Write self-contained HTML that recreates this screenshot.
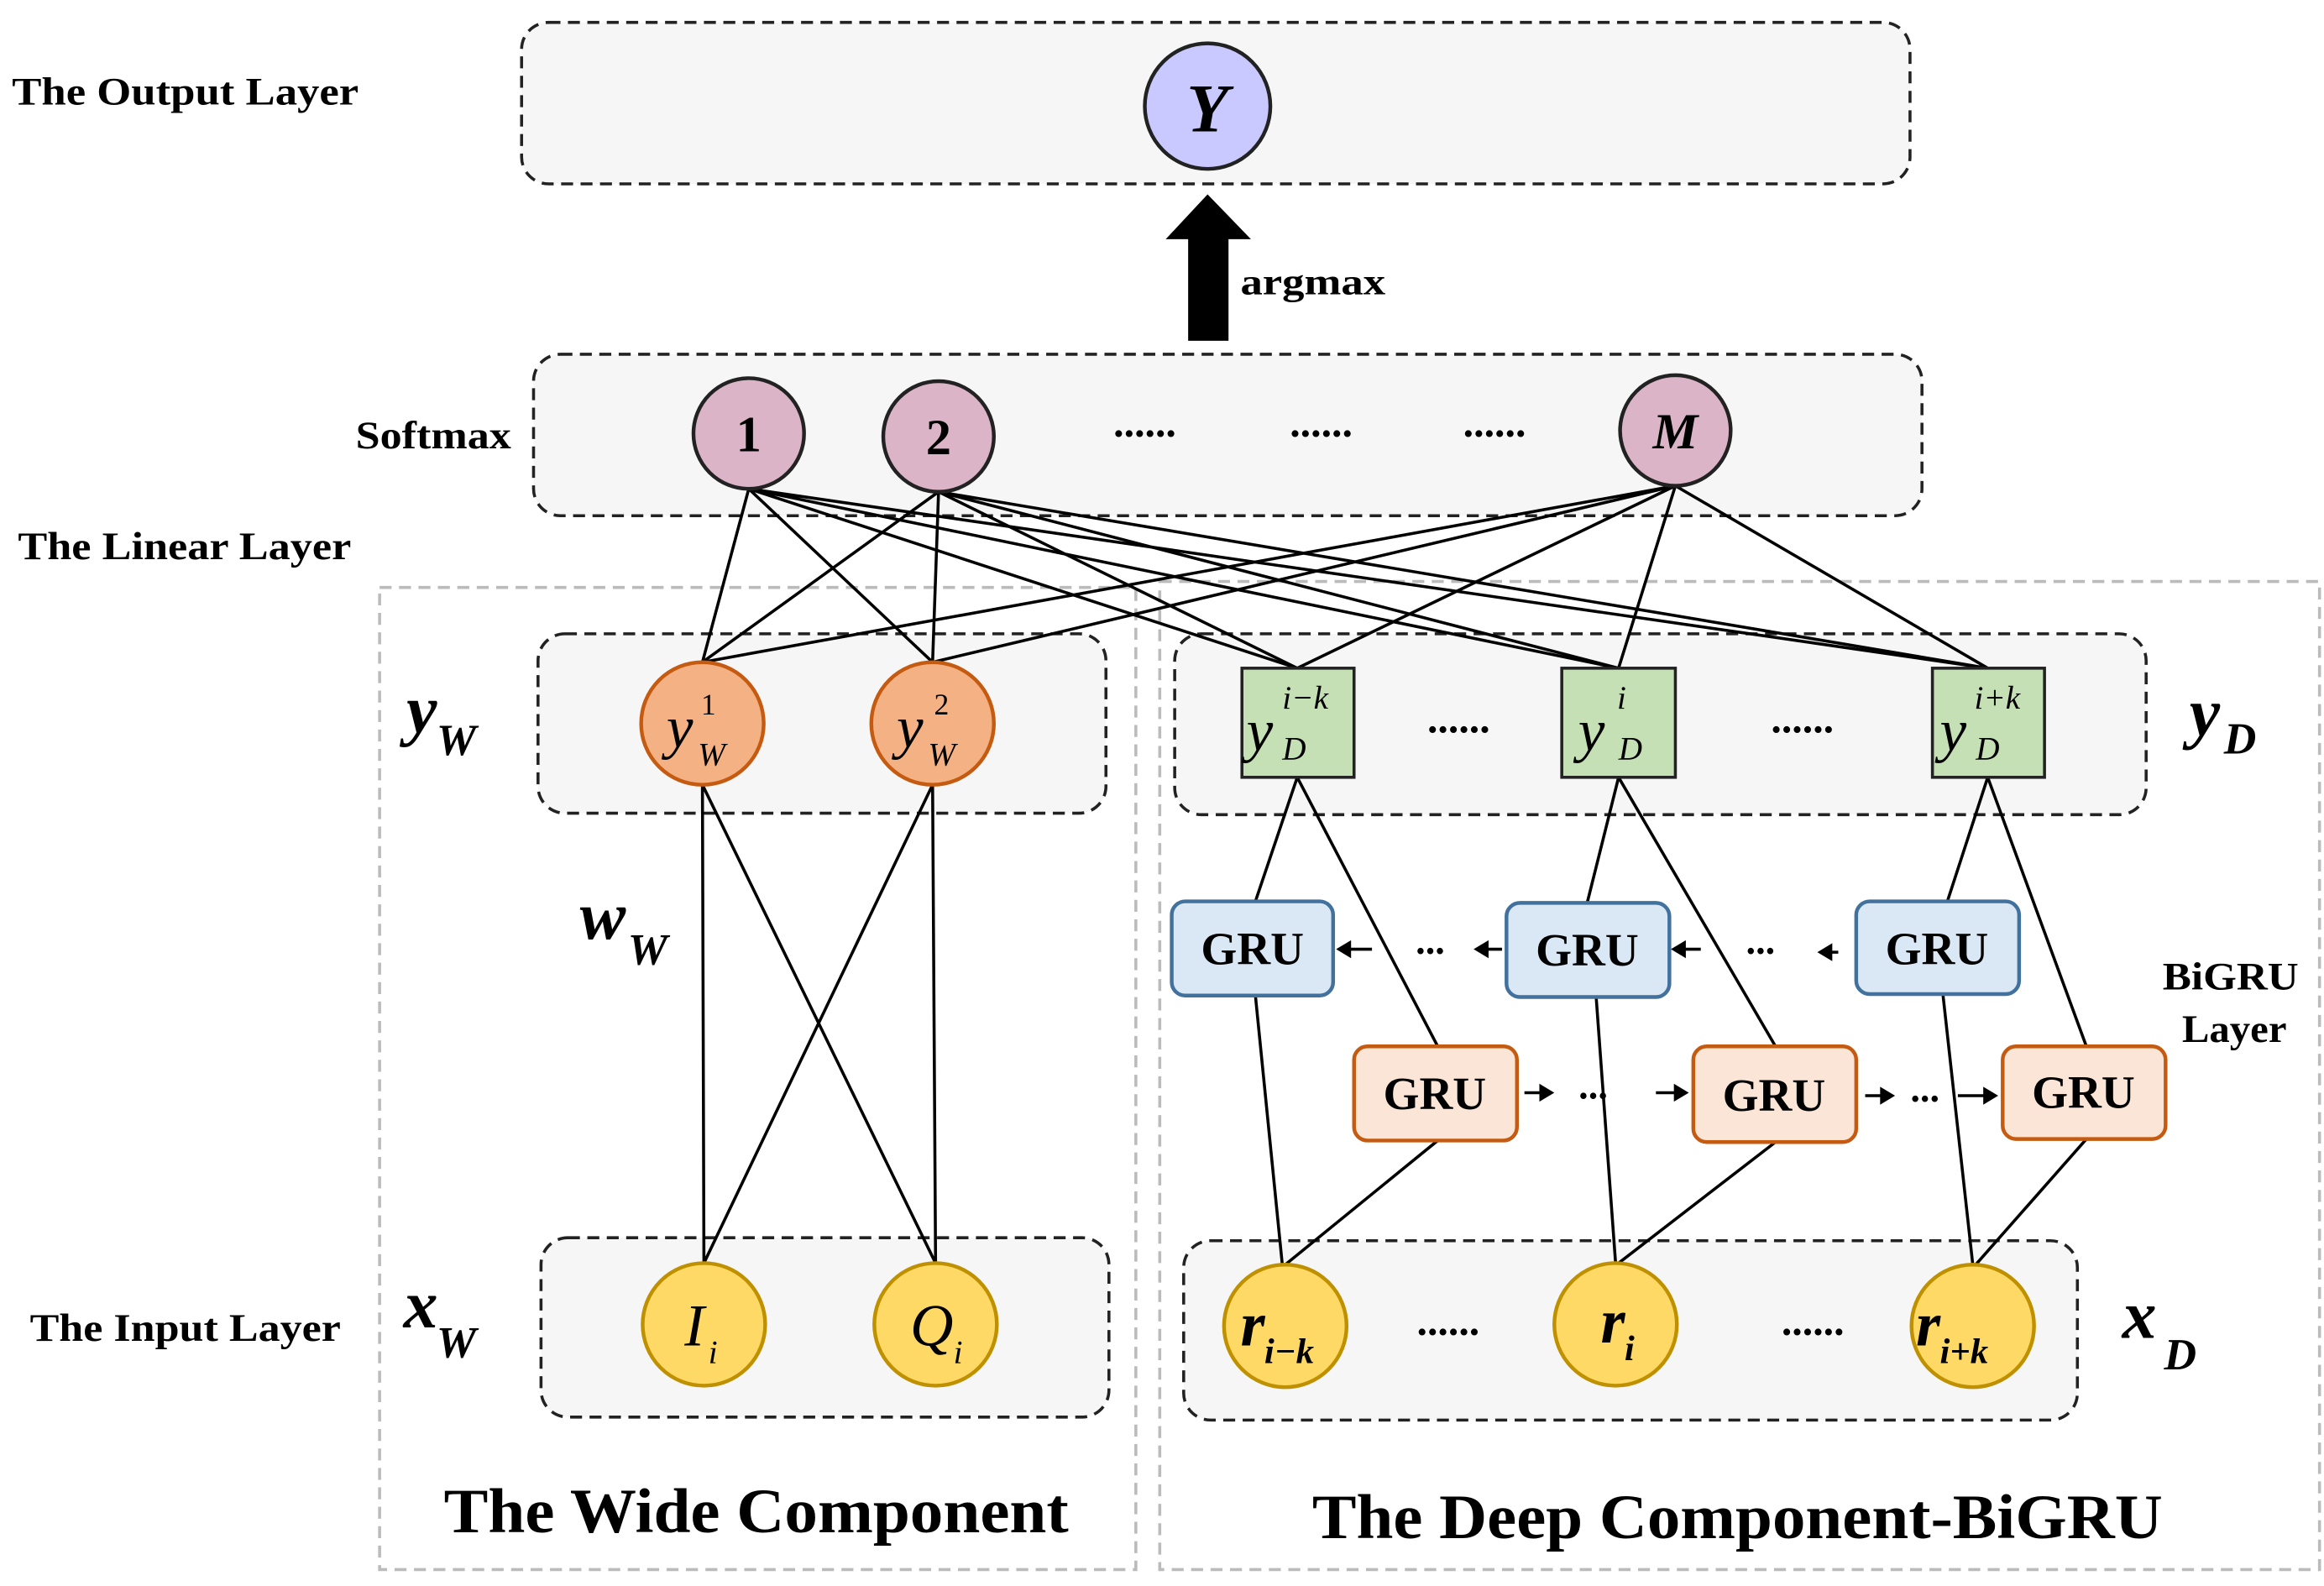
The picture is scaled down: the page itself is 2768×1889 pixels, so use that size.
<!DOCTYPE html>
<html><head><meta charset="utf-8"><style>
html,body{margin:0;padding:0;background:#fff;}
svg{display:block;}
text{font-family:"Liberation Serif",serif;font-weight:bold;fill:#000;}
</style></head><body>
<svg width="2768" height="1889" viewBox="0 0 1555 1061" preserveAspectRatio="none" xmlns="http://www.w3.org/2000/svg">
<rect x="254" y="393" width="506" height="657" fill="none" stroke="#bbb" stroke-width="2" stroke-dasharray="8,5"/>
<rect x="776" y="389" width="776" height="661" fill="none" stroke="#bbb" stroke-width="2" stroke-dasharray="8,5"/>
<g fill="#f6f6f6" stroke="#222" stroke-width="2" stroke-dasharray="8,5">
<rect x="349" y="15" width="929" height="108" rx="18"/>
<rect x="357" y="237" width="929" height="108" rx="18"/>
<rect x="360" y="424" width="380" height="120" rx="18"/>
<rect x="786" y="424" width="650" height="121" rx="18"/>
<rect x="362" y="828" width="380" height="120" rx="18"/>
<rect x="792" y="830" width="598" height="120" rx="18"/>
</g>
<g stroke="#000" stroke-width="2" fill="none">
<path d="M501 327L470 443M501 327L624 443M501 327L868 447M501 327L1083 447M501 327L1330 447"/>
<path d="M628 329L470 443M628 329L624 443M628 329L868 447M628 329L1083 447M628 329L1330 447"/>
<path d="M1121 325L470 443M1121 325L624 443M1121 325L868 447M1121 325L1083 447M1121 325L1330 447"/>
<path d="M470 525L471 845M470 525L626 845M624 525L471 845M624 525L626 845"/>
<path d="M868 520L840 603M868 520L962 700M840 666L858 846M962 763L860 846"/>
<path d="M1083 520L1062 604M1083 520L1188 700M1068 667L1081 845M1188 764L1083 845"/>
<path d="M1330 520L1303 603M1330 520L1396 700M1300 665L1320 846M1396 762L1322 846"/>
</g>
<polygon points="795,228 822,228 822,160 837,160 808,130 780,160 795,160" fill="#000"/>
<text x="830" y="197" font-size="25" textLength="97" lengthAdjust="spacingAndGlyphs">argmax</text>
<circle cx="808" cy="71" r="42" fill="#c9c9ff" stroke="#222" stroke-width="2.5"/>
<text x="808" y="88" font-size="46" font-style="italic" text-anchor="middle">Y</text>
<g fill="#dbb4c8" stroke="#222" stroke-width="2.5">
<circle cx="501" cy="290" r="37"/><circle cx="628" cy="292" r="37"/><circle cx="1121" cy="288" r="37"/>
</g>
<text x="501" y="302" font-size="34" text-anchor="middle">1</text>
<text x="628" y="304" font-size="34" text-anchor="middle">2</text>
<text x="1121" y="300" font-size="34" font-style="italic" text-anchor="middle">M</text>
<g font-size="28" text-anchor="middle"><text x="766" y="292">......</text><text x="884" y="292">......</text><text x="1000" y="292">......</text>
<text x="976" y="490">......</text><text x="1206" y="490">......</text>
<text x="969" y="893">......</text><text x="1213" y="893">......</text></g>
<text x="8" y="70" font-size="26" textLength="232" lengthAdjust="spacingAndGlyphs">The Output Layer</text>
<text x="238" y="300" font-size="26" textLength="104" lengthAdjust="spacingAndGlyphs">Softmax</text>
<text x="12" y="374" font-size="26" textLength="223" lengthAdjust="spacingAndGlyphs">The Linear Layer</text>
<text x="20" y="897" font-size="26" textLength="208" lengthAdjust="spacingAndGlyphs">The Input Layer</text>
<g fill="#f4b183" stroke="#c55a11" stroke-width="2.5"><circle cx="470" cy="484" r="41"/><circle cx="624" cy="484" r="41"/></g>
<g font-style="italic">
<text x="446" y="500" font-size="40" style="font-weight:normal">y</text><text x="469" y="478" font-size="20" style="font-weight:normal;font-style:normal">1</text><text x="467" y="512" font-size="22" style="font-weight:normal">W</text>
<text x="600" y="500" font-size="40" style="font-weight:normal">y</text><text x="625" y="478" font-size="20" style="font-weight:normal;font-style:normal">2</text><text x="621" y="512" font-size="22" style="font-weight:normal">W</text>
</g>
<g fill="#c5e0b4" stroke="#222" stroke-width="2"><rect x="831" y="447" width="75" height="73"/><rect x="1045" y="447" width="76" height="73"/><rect x="1293" y="447" width="75" height="73"/></g>
<g font-style="italic">
<text x="834" y="502" font-size="40" style="font-weight:normal">y</text><text x="858" y="474" font-size="22" style="font-weight:normal">i−k</text><text x="858" y="508" font-size="22" style="font-weight:normal">D</text>
<text x="1056" y="502" font-size="40" style="font-weight:normal">y</text><text x="1082" y="474" font-size="22" style="font-weight:normal">i</text><text x="1083" y="508" font-size="22" style="font-weight:normal">D</text>
<text x="1298" y="502" font-size="40" style="font-weight:normal">y</text><text x="1321" y="474" font-size="22" style="font-weight:normal">i+k</text><text x="1322" y="508" font-size="22" style="font-weight:normal">D</text>
</g>
<text x="272" y="490" font-size="46" font-style="italic">y</text><text x="292" y="505" font-size="30" font-style="italic">W</text>
<text x="1465" y="492" font-size="46" font-style="italic">y</text><text x="1488" y="504" font-size="30" font-style="italic">D</text>
<text x="388" y="628" font-size="46" font-style="italic">w</text><text x="420" y="645" font-size="30" font-style="italic">W</text>
<text x="270" y="888" font-size="46" font-style="italic">x</text><text x="292" y="908" font-size="30" font-style="italic">W</text>
<text x="1420" y="895" font-size="46" font-style="italic">x</text><text x="1448" y="916" font-size="30" font-style="italic">D</text>
<text x="1447" y="662" font-size="26" textLength="91" lengthAdjust="spacingAndGlyphs">BiGRU</text>
<text x="1460" y="697" font-size="26" textLength="70" lengthAdjust="spacingAndGlyphs">Layer</text>
<g fill="#dae8f5" stroke="#41719c" stroke-width="2.5"><rect x="784" y="603" width="108" height="63" rx="9"/><rect x="1008" y="604" width="109" height="63" rx="9"/><rect x="1242" y="603" width="109" height="62" rx="9"/></g>
<g fill="#fbe5d6" stroke="#c55a11" stroke-width="2.5"><rect x="906" y="700" width="109" height="63" rx="9"/><rect x="1133" y="700" width="109" height="64" rx="9"/><rect x="1340" y="700" width="109" height="62" rx="9"/></g>
<g font-size="31" text-anchor="middle"><text x="838" y="645">GRU</text><text x="1062" y="646">GRU</text><text x="1296" y="645">GRU</text>
<text x="960" y="742">GRU</text><text x="1187" y="743">GRU</text><text x="1394" y="741">GRU</text></g>
<g stroke="#000" stroke-width="2" fill="none"><path d="M918 635H898M1005 635H990M1230 637H1220M1138 635H1122M1020 731H1036M1108 731H1126M1248 733H1264M1310 733H1332"/></g>
<g fill="#000"><polygon points="894,635 904,629 904,641"/><polygon points="986,635 996,629 996,641"/><polygon points="1216,637 1226,631 1226,643"/><polygon points="1118,635 1128,629 1128,641"/>
<polygon points="1040,731 1030,725 1030,737"/><polygon points="1130,731 1120,725 1120,737"/><polygon points="1268,733 1258,727 1258,739"/><polygon points="1337,733 1327,727 1327,739"/></g>
<g font-size="26" text-anchor="middle"><text x="957" y="638">...</text><text x="1178" y="638">...</text><text x="1066" y="735">...</text><text x="1288" y="737">...</text></g>
<g fill="#ffd966" stroke="#bf9000" stroke-width="2.5"><circle cx="471" cy="886" r="41"/><circle cx="626" cy="886" r="41"/><circle cx="860" cy="887" r="41"/><circle cx="1081" cy="886" r="41"/><circle cx="1320" cy="887" r="41"/></g>
<text x="458" y="900" font-size="40" font-style="italic" style="font-weight:normal">I</text><text x="474" y="912" font-size="22" font-style="italic" style="font-weight:normal">i</text>
<text x="609" y="900" font-size="40" font-style="italic" style="font-weight:normal">Q</text><text x="638" y="912" font-size="22" font-style="italic" style="font-weight:normal">i</text>
<text x="830" y="900" font-size="42" font-style="italic">r</text><text x="846" y="912" font-size="24" font-style="italic">i−k</text>
<text x="1071" y="898" font-size="42" font-style="italic">r</text><text x="1087" y="910" font-size="24" font-style="italic">i</text>
<text x="1282" y="900" font-size="42" font-style="italic">r</text><text x="1298" y="912" font-size="24" font-style="italic">i+k</text>
<text x="297" y="1025" font-size="42" textLength="418" lengthAdjust="spacingAndGlyphs">The Wide Component</text>
<text x="878" y="1029" font-size="42" textLength="569" lengthAdjust="spacingAndGlyphs">The Deep Component-BiGRU</text>
</svg>
</body></html>
